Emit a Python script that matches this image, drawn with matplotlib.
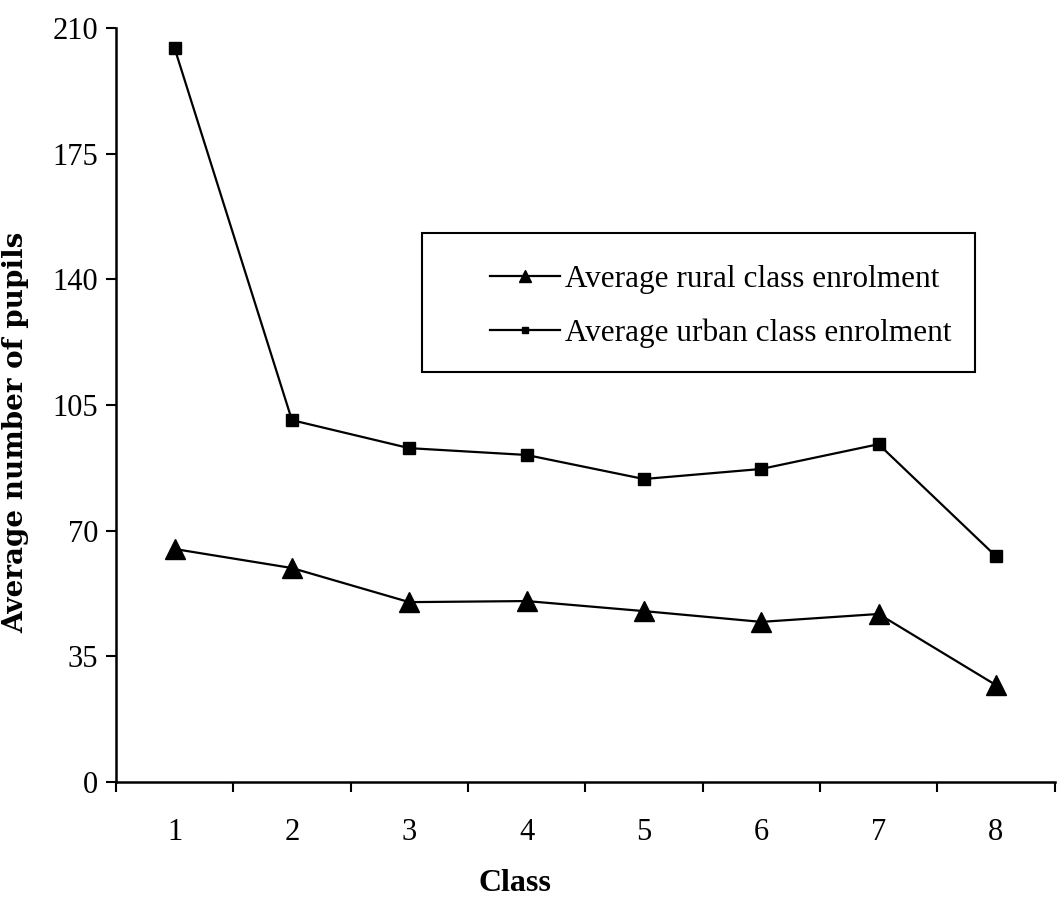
import matplotlib.pyplot as plt
from matplotlib.patches import Rectangle
from matplotlib.ticker import FixedLocator

plt.rcParams['font.family'] = ['Liberation Serif', 'DejaVu Serif']

classes = [1, 2, 3, 4, 5, 6, 7, 8]
rural = [64.9, 59.6, 50.1, 50.4, 47.6, 44.6, 46.8, 27.0]
urban = [204.4, 100.8, 93.0, 91.1, 84.4, 87.2, 94.1, 62.9]
y_ticks = [0, 35, 70, 105, 140, 175, 210]

fig = plt.figure(figsize=(10.57, 9.06), dpi=100)
ax = fig.add_axes([0.1097, 0.1369, 0.888, 0.832])

ax.plot(classes, rural, color='black', lw=1.6, marker='^', ms=15,
        label='Average rural class enrolment')
ax.plot(classes, urban, color='black', lw=1.6, marker='s', ms=8,
        label='Average urban class enrolment')

ax.set_xlim(0.5, 8.5)
ax.set_ylim(0, 210)
ax.set_yticks(y_ticks)
ax.tick_params(axis='y', direction='out', length=7, width=1.5, labelsize=22, pad=6)

# category separators as major ticks, labels sit on minor ticks
ax.xaxis.set_major_locator(FixedLocator([c - 0.5 for c in classes] + [8.5]))
ax.xaxis.set_major_formatter(plt.NullFormatter())
ax.set_xticks(classes, [str(c) for c in classes], minor=True)
ax.tick_params(axis='x', which='major', direction='out', length=7, width=1.5)
ax.tick_params(axis='x', which='minor', length=0, labelsize=22, pad=26)

for side in ['top', 'right']:
    ax.spines[side].set_visible(False)
for side in ['left', 'bottom']:
    ax.spines[side].set_linewidth(1.8)

ax.set_xlabel('Class', fontsize=23, fontweight='bold')
ax.xaxis.set_label_coords(0.425, -0.115)
ax.set_ylabel('Average number of pupils', fontsize=20, fontweight='bold',
              family='DejaVu Serif')
ax.yaxis.set_label_coords(-0.092, 0.464)

# legend box drawn separately so the entries can sit off-centre inside it
ax.add_patch(Rectangle((0.326, 0.544), 0.589, 0.184, transform=ax.transAxes,
                       fill=False, edgecolor='black', lw=1.5, zorder=3))
ax.legend(loc='upper left', bbox_to_anchor=(0.398, 0.686), fontsize=22.5,
          frameon=False, borderpad=0, borderaxespad=0,
          handlelength=2.25, handletextpad=0.15, labelspacing=0.8,
          markerscale=0.6)

fig.savefig('out.png', dpi=100)
